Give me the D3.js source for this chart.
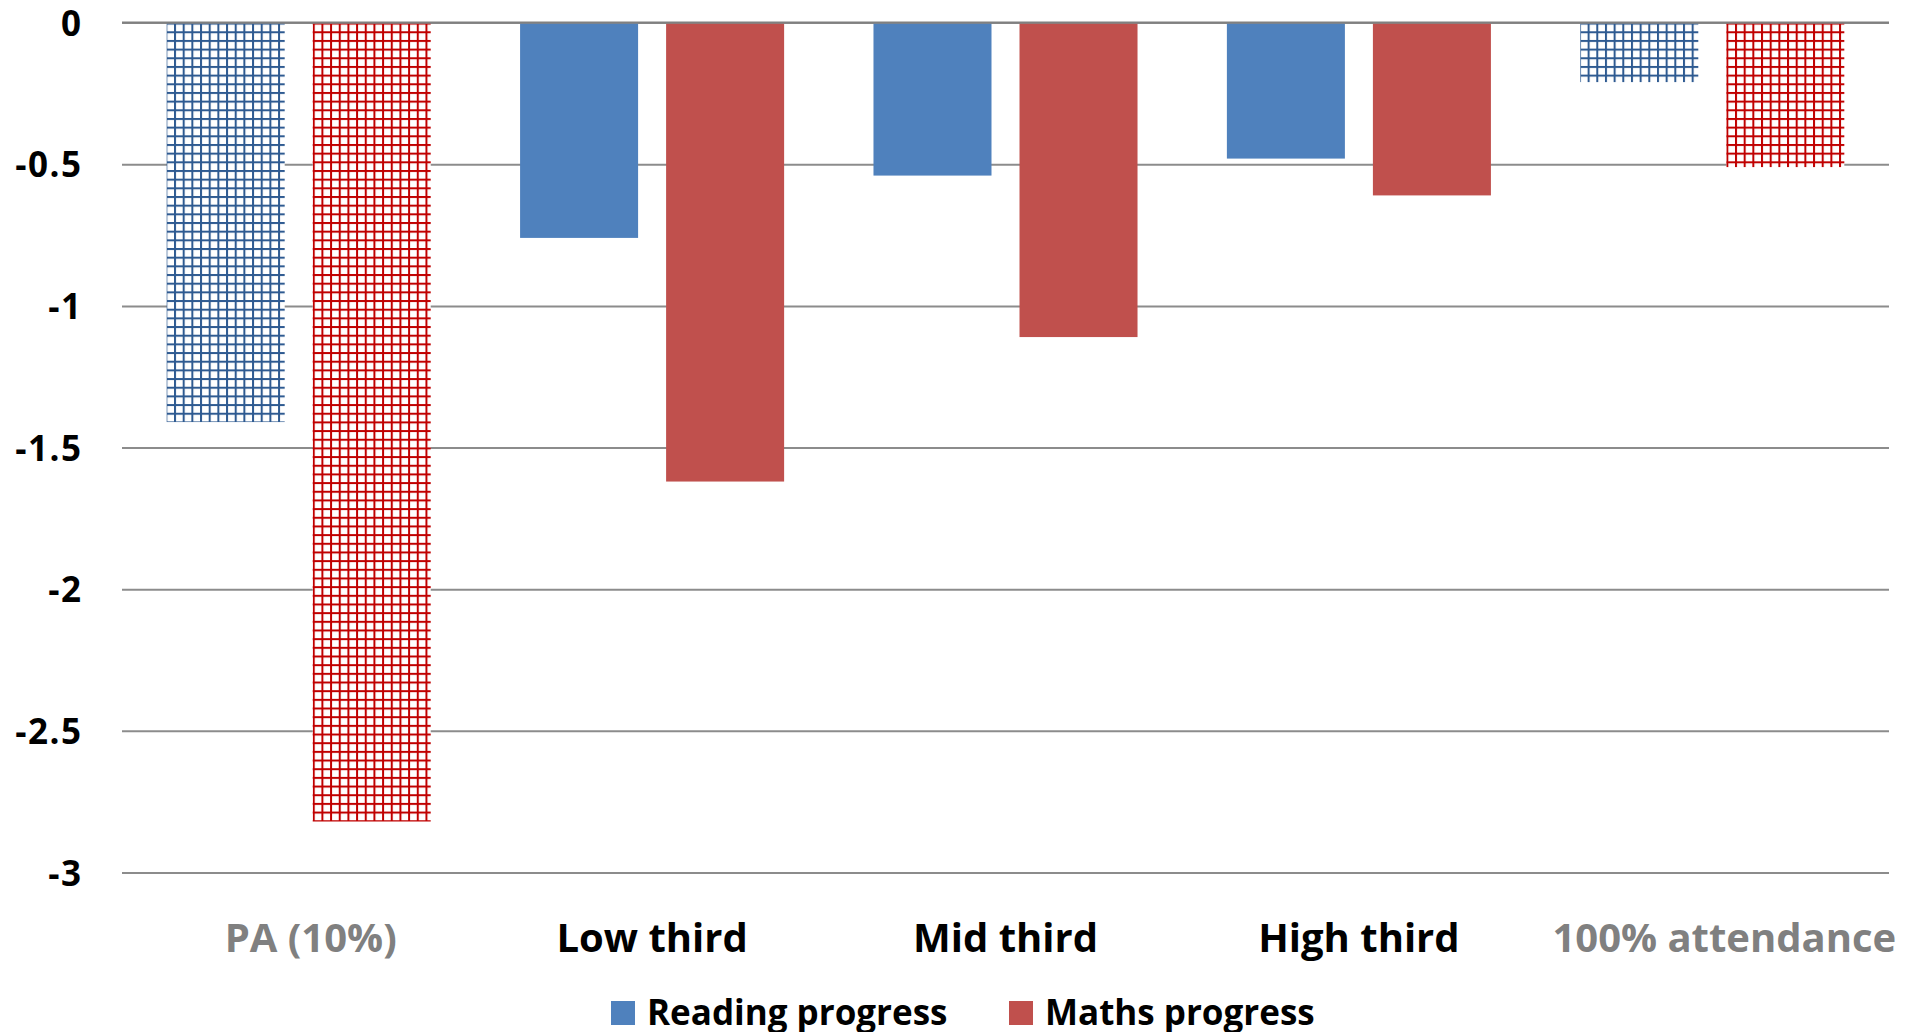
<!DOCTYPE html>
<html>
<head>
<meta charset="utf-8">
<script src="https://cdn.jsdelivr.net/npm/d3@7/dist/d3.min.js"></script>
<style>
  html, body { margin: 0; padding: 0; background: #ffffff; overflow: hidden; }
  svg { display: block; }
  text { font-family: "Open Sans", Lato, "DejaVu Sans", sans-serif; font-weight: 700; }
</style>
</head>
<body>
<svg id="chart" width="1917" height="1032"></svg>
<script>
// ---- data ----
const categories = ["PA (10%)", "Low third", "Mid third", "High third", "100% attendance"];
const mutedCategories = ["PA (10%)", "100% attendance"];
const seriesNames = ["Reading progress", "Maths progress"];
const readingProgress = [-1.41, -0.76, -0.54, -0.48, -0.21];
const mathsProgress = [-2.82, -1.62, -1.11, -0.61, -0.51];
const tickValues = [0, -0.5, -1, -1.5, -2, -2.5, -3];
const tickLabels = ["0", "-0.5", "-1", "-1.5", "-2", "-2.5", "-3"];

// ---- styling ----
const solidColors = { "Reading progress": "#4f81bd", "Maths progress": "#c0504d" };
const hatchColors = { "Reading progress": "#2e5a91", "Maths progress": "#c00000" };

const svg = d3.select("#chart");
const plot = { left: 122, right: 1889, top: 22.6, bottom: 872.5 };

const x = d3.scaleBand().domain(categories).range([plot.left, plot.right]).paddingInner(0).paddingOuter(0);
const xSub = d3.scaleBand().domain(seriesNames).range([0, x.bandwidth()])
  .paddingInner(0.1918).paddingOuter(0.306);
const y = d3.scaleLinear().domain([-3, 0]).range([plot.bottom, plot.top]);

// patterns
const defs = svg.append("defs");
seriesNames.forEach((s, i) => {
  const p = defs.append("pattern")
    .attr("id", "hatch" + i)
    .attr("patternUnits", "userSpaceOnUse")
    .attr("width", 8.67).attr("height", 8.67)
    .attr("x", 0).attr("y", plot.top);
  p.append("rect").attr("width", 8.67).attr("height", 8.67).attr("fill", "#ffffff");
  p.append("rect").attr("x", 0).attr("y", 0).attr("width", 2).attr("height", 8.67).attr("fill", hatchColors[s]);
  p.append("rect").attr("x", 0).attr("y", 0).attr("width", 8.67).attr("height", 2).attr("fill", hatchColors[s]);
});

// gridlines
const yAxis = d3.axisLeft(y).tickValues(tickValues)
  .tickFormat((d, i) => tickLabels[i])
  .tickSize(-(plot.right - plot.left)).tickPadding(39.5);
const gAxis = svg.append("g").attr("transform", `translate(${plot.left},0)`).call(yAxis);
gAxis.select(".domain").remove();
gAxis.selectAll(".tick line").attr("stroke", "#8c8c8c").attr("stroke-width", 2);
gAxis.selectAll(".tick text").attr("fill", "#000000").attr("font-size", 35)
  .attr("letter-spacing", 1.5)
  .attr("dy", "0.36em");

// bars
const rows = categories.map((c, i) => ({ cat: c, values: [
  { s: seriesNames[0], v: readingProgress[i] },
  { s: seriesNames[1], v: mathsProgress[i] }
]}));
const groups = svg.append("g").selectAll("g").data(rows).join("g")
  .attr("transform", d => `translate(${x(d.cat)},0)`);
groups.selectAll("rect").data(d => d.values.map(v => ({ ...v, cat: d.cat }))).join("rect")
  .attr("x", d => xSub(d.s))
  .attr("width", xSub.bandwidth())
  .attr("y", d => y(0) + 1)
  .attr("height", d => y(d.v) - y(0) - 1)
  .attr("fill", d => mutedCategories.includes(d.cat) ? `url(#hatch${seriesNames.indexOf(d.s)})` : solidColors[d.s]);

// zero line on top
svg.append("line").attr("x1", plot.left).attr("x2", plot.right)
  .attr("y1", y(0)).attr("y2", y(0)).attr("stroke", "#808080").attr("stroke-width", 2);

// category labels
svg.append("g").selectAll("text").data(categories).join("text")
  .attr("x", d => x(d) + x.bandwidth() / 2 + (mutedCategories.includes(d) ? 12 : 0))
  .attr("y", 951.5)
  .attr("text-anchor", "middle")
  .attr("font-size", 40)
  .attr("fill", d => mutedCategories.includes(d) ? "#808080" : "#000000")
  .text(d => d);

// legend
const legendX = [611, 1009];
const leg = svg.append("g").selectAll("g").data(seriesNames).join("g")
  .attr("transform", (d, i) => `translate(${legendX[i]},1001)`);
leg.append("rect").attr("width", 24).attr("height", 24).attr("fill", d => solidColors[d]);
leg.append("text").attr("x", 36).attr("y", 23.5).attr("font-size", 35).attr("fill", "#000000").text(d => d);
</script>
</body>
</html>
